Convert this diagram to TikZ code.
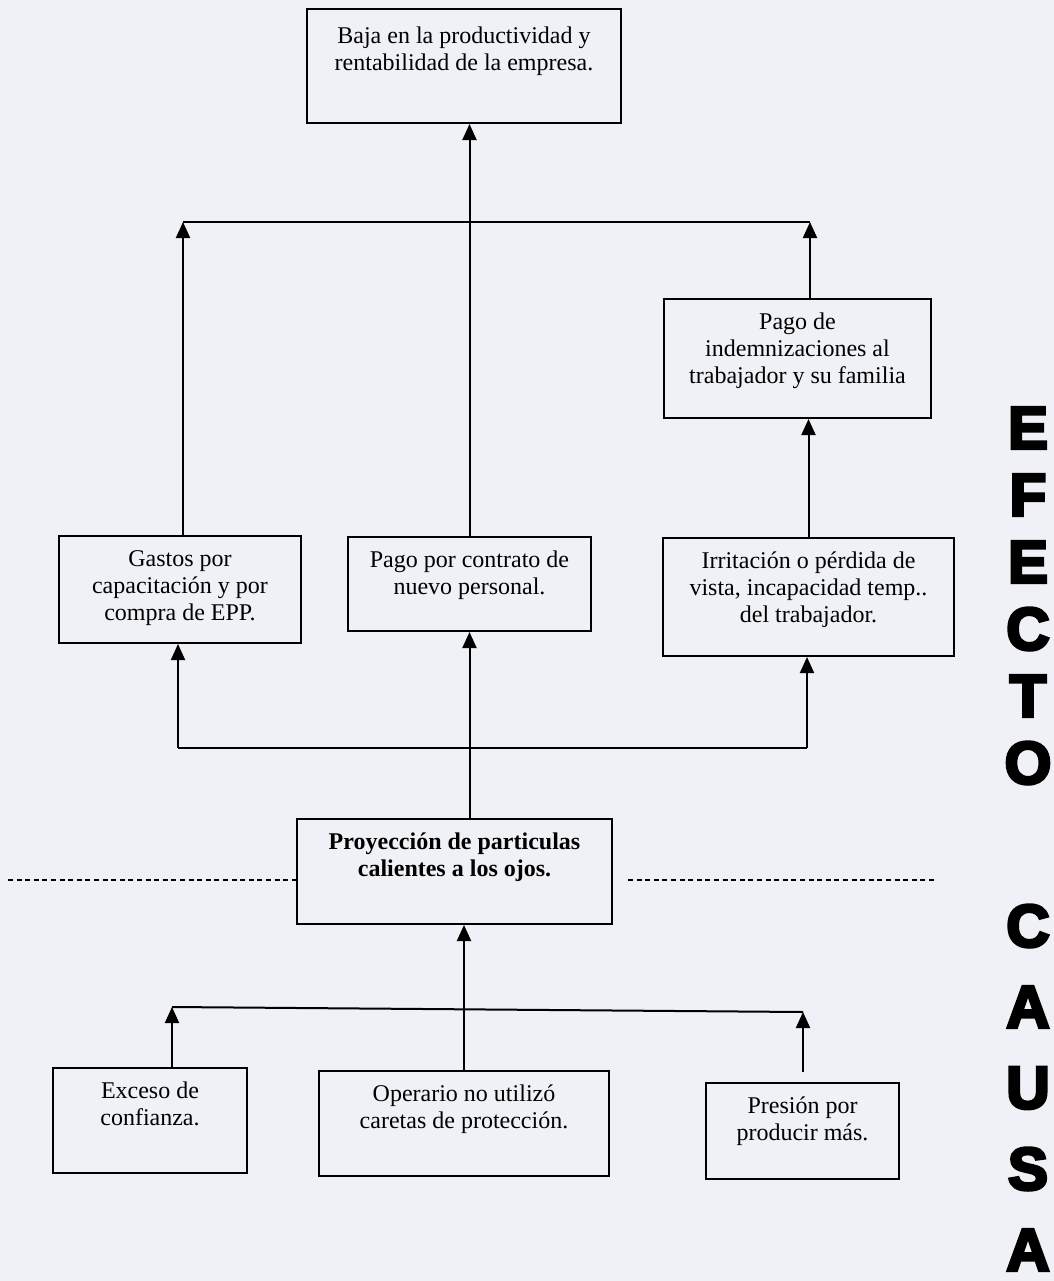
\documentclass[tikz,border=0pt]{standalone}
\usepackage{fontspec}
\setmainfont{Liberation Serif}
\newfontfamily\gruesa{Liberation Sans}[BoldFeatures={FakeBold=5}]
\usetikzlibrary{arrows.meta}

\definecolor{fondo}{RGB}{240,241,246}

% texto de caja: [alto primera linea]{ancho}{alto}{texto}
\newcommand{\texto}[4][15pt]{\parbox[t][#3][t]{#2}{\centering\rule{0pt}{#1}#4}}

\tikzset{
    caja/.style={draw, line width=1pt, inner sep=0pt, anchor=north west,
        font=\fontsize{12}{13.5}\selectfont},
    flecha/.style={line width=1pt, -{Triangle[width=7pt,length=8pt]}},
    linea/.style={line width=1pt},
    punteada/.style={line width=1pt, dash pattern=on 2.5pt off 1.8pt},
    letra/.style={inner sep=0pt, font=\gruesa\bfseries\fontsize{30}{30}\selectfont}
}

\begin{document}
\begin{tikzpicture}[x=0.5pt, y=-0.5pt]
    \fill[fondo] (0,0) rectangle (1054,1281);
    \useasboundingbox (0,0) rectangle (1054,1281);

    % Efectos
    \node[caja] (baja) at (306,8) {\texto[17pt]{157pt}{57pt}{Baja en la productividad y\\ rentabilidad de la empresa.}};
    \node[caja] (indem) at (663,298) {\texto{133.5pt}{59.5pt}{Pago de\\ indemnizaciones al\\ trabajador y su familia}};
    \node[caja] (gastos) at (58,535) {\texto{121pt}{53.5pt}{Gastos por\\ capacitación y por\\ compra de EPP.}};
    \node[caja] (pago) at (347,536) {\texto{121.5pt}{47pt}{Pago por contrato de\\ nuevo personal.}};
    \node[caja] (irrita) at (662,537) {\texto{145.5pt}{59pt}{Irritación o pérdida de\\ vista, incapacidad temp..\\ del trabajador.}};

    % Problema central
    \node[caja] (proy) at (296,818) {\texto{157.5pt}{52.5pt}{\bfseries Proyección de particulas\\ calientes a los ojos.}};

    % Causas
    \node[caja] (exceso) at (52,1067) {\texto{97pt}{52.5pt}{Exceso de\\ confianza.}};
    \node[caja] (operario) at (318,1070) {\texto{145pt}{52.5pt}{Operario no utilizó\\ caretas de protección.}};
    \node[caja] (presion) at (705,1082) {\texto{96.5pt}{48pt}{Presión por\\ producir más.}};

    % Union superior
    \coordinate (supizq) at (183,222);
    \coordinate (supder) at (810,222);
    \draw[linea] (supizq) -- (supder);
    \draw[flecha] (gastos.north -| supizq) -- (supizq);
    \draw[flecha] (indem.north -| supder) -- (supder);
    \draw[flecha] (pago.north) -- (pago.north |- baja.south);
    \draw[flecha] (irrita.north) -- (irrita.north |- indem.south);

    % Union media
    \coordinate (medizq) at (178,748);
    \coordinate (medder) at (807,748);
    \draw[linea] (medizq) -- (medder);
    \draw[flecha] (medizq) -- (medizq |- gastos.south);
    \draw[flecha] (medder) -- (medder |- irrita.south);
    \draw[flecha] (proy.north -| pago.south) -- (pago.south);

    % Union inferior
    \coordinate (infizq) at (172,1007);
    \coordinate (infder) at (803,1012);
    \draw[linea] (infizq) -- (infder);
    \draw[flecha] (exceso.north -| infizq) -- (infizq);
    \draw[flecha] ([yshift=5pt]presion.north -| infder) -- (infder);
    \draw[flecha] (operario.north) -- (operario.north |- proy.south);

    % Limite efecto / causa
    \coordinate (limizq) at (8,880);
    \coordinate (limder) at (935,880);
    \draw[punteada] (limizq) -- (limizq -| proy.west);
    \draw[punteada] ([xshift=7.5pt]limder -| proy.east) -- (limder);

    % Rotulos laterales
    \foreach \l [count=\i] in {E,F,E,C,T,O}
        \node[letra] (efecto\i) at (1028, {428+67*(\i-1)}) {\l};
    \foreach \l [count=\i] in {C,A,U,S,A}
        \node[letra] (causa\i) at (1028, {926+81*(\i-1)}) {\l};
\end{tikzpicture}
\end{document}
